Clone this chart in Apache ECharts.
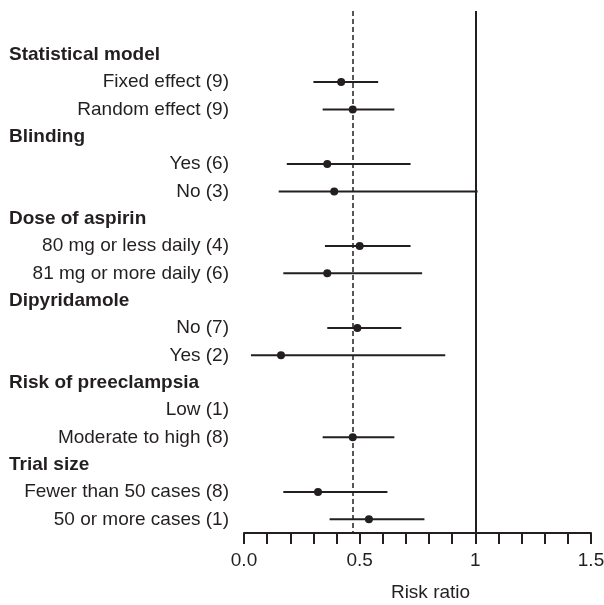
<!DOCTYPE html>
<html>
<head>
<meta charset="utf-8">
<script src="https://cdn.jsdelivr.net/npm/echarts@6/dist/echarts.min.js"></script>
<style>
  html, body { margin: 0; padding: 0; background: #fff; }
  #main { width: 604px; height: 605px; }
</style>
</head>
<body>
<div id="main"></div>
<script>
// rows, top to bottom (headers have no estimate)
var rowLabels = [
  'Statistical model', 'Fixed effect (9)', 'Random effect (9)',
  'Blinding', 'Yes (6)', 'No (3)',
  'Dose of aspirin', '80 mg or less daily (4)', '81 mg or more daily (6)',
  'Dipyridamole', 'No (7)', 'Yes (2)',
  'Risk of preeclampsia', 'Low (1)', 'Moderate to high (8)',
  'Trial size', 'Fewer than 50 cases (8)', '50 or more cases (1)'
];
var isHeader = [1, 0, 0, 1, 0, 0, 1, 0, 0, 1, 0, 0, 1, 0, 0, 1, 0, 0];

// risk ratio with 95% CI
var ratio = [null, 0.42, 0.47, null, 0.36, 0.39, null, 0.50, 0.36, null, 0.49, 0.16, null, null, 0.47, null, 0.32, 0.54];
var lower = [null, 0.30, 0.34, null, 0.185, 0.15, null, 0.35, 0.17, null, 0.36, 0.03, null, null, 0.34, null, 0.17, 0.37];
var upper = [null, 0.58, 0.65, null, 0.72, 1.01, null, 0.72, 0.77, null, 0.68, 0.87, null, null, 0.65, null, 0.62, 0.78];

var pooledRR = 0.47;   // dashed line
var noEffect = 1;      // solid line

var xTickLabels = { '0': '0.0', '0.5': '0.5', '1': '1', '1.5': '1.5' };

var ink = '#231f20';
var font = "'Liberation Sans', Arial, sans-serif";

var rowIdx = rowLabels.map(function (d, i) { return i; });

var ciData = [];
var ptData = [];
for (var i = 0; i < rowLabels.length; i++) {
  if (ratio[i] == null) continue;
  ciData.push([lower[i], upper[i], i]);
  ptData.push([ratio[i], i]);
}

var chart = echarts.init(document.getElementById('main'), null, { renderer: 'canvas' });

var option = {
  backgroundColor: '#ffffff',
  animation: false,
  grid: { left: 244, right: 13, top: 11, bottom: 72, outerBoundsMode: 'none', containLabel: false },
  xAxis: {
    type: 'value',
    min: 0,
    max: 1.5,
    interval: 0.1,
    name: 'Risk ratio',
    nameLocation: 'middle',
    nameGap: 50,
    nameTextStyle: { color: ink, fontSize: 19, fontFamily: font, padding: [0, 0, 0, 26] },
    axisLine: { show: true, onZero: false, lineStyle: { color: ink, width: 2 } },
    axisTick: { show: true, inside: false, length: 11, lineStyle: { color: ink, width: 2 } },
    splitLine: { show: false },
    axisLabel: {
      color: ink,
      fontSize: 19,
      fontFamily: font,
      margin: 18,
      showMinLabel: true,
      showMaxLabel: true,
      formatter: function (v) {
        var k = String(Math.round(v * 10) / 10);
        return xTickLabels[k] || '';
      }
    }
  },
  yAxis: {
    type: 'value',
    inverse: true,
    min: -1.6,
    max: 17.5,
    axisLine: { show: false },
    axisTick: { show: false },
    splitLine: { show: false },
    axisLabel: {
      customValues: rowIdx,
      margin: 15,
      align: 'right',
      formatter: function (v) {
        var i = Math.round(v);
        return (isHeader[i] ? '{h|' : '{r|') + rowLabels[i] + '}';
      },
      rich: {
        h: { fontSize: 19, fontWeight: 'bold', fontFamily: font, color: ink, width: 220, align: 'left' },
        r: { fontSize: 19, fontFamily: font, color: ink, width: 220, align: 'right' }
      }
    }
  },
  series: [
    {
      type: 'custom',
      data: ciData,
      encode: { x: [0, 1], y: 2 },
      renderItem: function (params, api) {
        var a = api.coord([api.value(0), api.value(2)]);
        var b = api.coord([api.value(1), api.value(2)]);
        return {
          type: 'line',
          shape: { x1: a[0], y1: a[1], x2: b[0], y2: b[1] },
          style: { stroke: ink, lineWidth: 2 }
        };
      },
      z: 3
    },
    {
      type: 'scatter',
      data: ptData,
      symbol: 'circle',
      symbolSize: 8,
      itemStyle: { color: ink, opacity: 1 },
      z: 4,
      markLine: {
        silent: true,
        symbol: 'none',
        label: { show: false },
        data: [
          { xAxis: pooledRR, lineStyle: { color: ink, width: 1.5, type: [5, 3], opacity: 1 } },
          { xAxis: noEffect, lineStyle: { color: ink, width: 2, type: 'solid', opacity: 1 } }
        ]
      }
    }
  ]
};

chart.setOption(option);
</script>
</body>
</html>
